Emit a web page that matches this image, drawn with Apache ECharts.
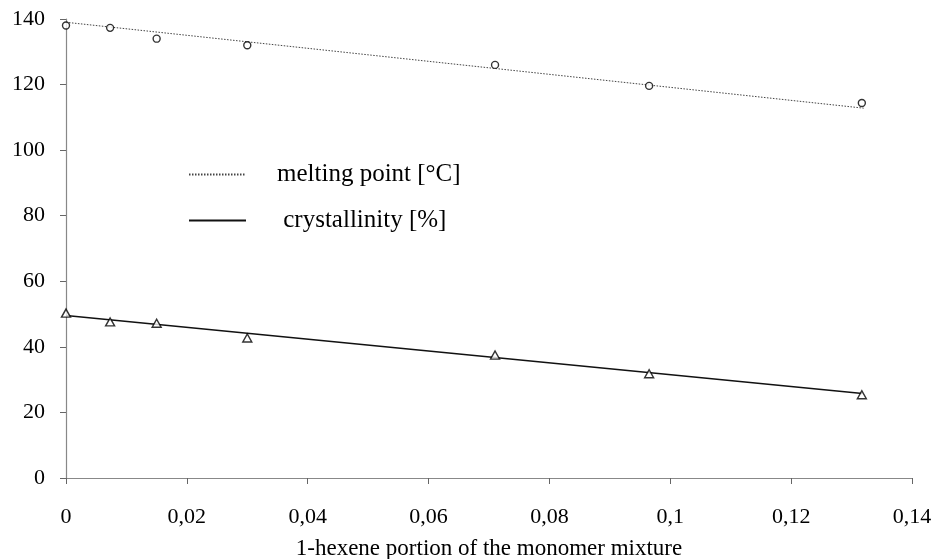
<!DOCTYPE html>
<html>
<head>
<meta charset="utf-8">
<script src="https://cdn.jsdelivr.net/npm/echarts@6/dist/echarts.min.js"></script>
<style>html,body{margin:0;padding:0;background:#fff}#c{width:937px;height:559px}</style>
</head>
<body>
<div id="c"></div>
<script>
// measured data
const hexene = [0, 0.0073, 0.015, 0.030, 0.071, 0.0965, 0.1317];
const meltingPoint = [138, 137.3, 134, 132, 126, 119.6, 114.4];
const crystallinity = [50.3, 47.6, 47.2, 42.7, 37.5, 31.8, 25.4];
// linear trend lines (endpoints)
const meltFitX = [0, 0.132];
const meltFitY = [139, 112.8];
const crystFitX = [0, 0.1318];
const crystFitY = [49.6, 25.8];
const xTicks = { min: 0, max: 0.14, interval: 0.02 };
const yTicks = { min: 0, max: 140, interval: 20 };
const legendNames = ['melting point [°C]', 'crystallinity [%]'];

const pairs = (xs, ys) => xs.map((x, i) => [x, ys[i]]);
const fmt = v => String(+v.toFixed(4)).replace('.', ',');
const font = 'Liberation Serif';

const chart = echarts.init(document.getElementById('c'), null, { renderer: 'canvas' });
chart.setOption({
  backgroundColor: '#fff',
  animation: false,
  grid: { left: 66, right: 25, top: 19, bottom: 81, containLabel: false, outerBoundsMode: 'none' },
  xAxis: {
    type: 'value', min: xTicks.min, max: xTicks.max, interval: xTicks.interval,
    name: '1-hexene portion of the monomer mixture', nameLocation: 'middle', nameGap: 59,
    nameTextStyle: { fontFamily: font, fontSize: 23, color: '#000' },
    axisLine: { show: true, lineStyle: { color: '#888', width: 1.2 } },
    axisTick: { show: true, length: 6, lineStyle: { color: '#666' } },
    axisLabel: { formatter: fmt, fontFamily: font, fontSize: 22, color: '#000', margin: 28 },
    splitLine: { show: false }
  },
  yAxis: {
    type: 'value', min: yTicks.min, max: yTicks.max, interval: yTicks.interval,
    axisLine: { show: true, lineStyle: { color: '#888', width: 1.2 } },
    axisTick: { show: true, length: 6, lineStyle: { color: '#666' } },
    axisLabel: { fontFamily: font, fontSize: 22, color: '#000', margin: 21 },
    splitLine: { show: false }
  },
  legend: {
    orient: 'vertical', left: 183, top: 157, itemGap: 21, itemWidth: 57, itemHeight: 14,
    data: legendNames,
    formatter: n => n === legendNames[1] ? ' ' + n : n,
    itemStyle: { opacity: 0 },
    textStyle: { fontFamily: font, fontSize: 25, color: '#000', padding: [0, 0, 0, 26] },
    selectedMode: false
  },
  series: [
    {
      name: legendNames[0], type: 'line', data: pairs(meltFitX, meltFitY),
      symbol: 'none', silent: true,
      lineStyle: { color: '#444', width: 1, type: [1.5, 1.5] }, z: 2
    },
    {
      name: legendNames[1], type: 'line', data: pairs(crystFitX, crystFitY),
      symbol: 'none', silent: true,
      lineStyle: { color: '#111', width: 1.5, type: 'solid' }, z: 2
    },
    {
      name: 'mp points', type: 'scatter', data: pairs(hexene, meltingPoint),
      symbol: 'circle', symbolSize: 7,
      itemStyle: { color: '#fff', borderColor: '#000', borderWidth: 1.4 }, z: 3
    },
    {
      name: 'cryst points', type: 'scatter', data: pairs(hexene, crystallinity),
      symbol: 'triangle', symbolSize: [9, 8],
      itemStyle: { color: '#fff', borderColor: '#000', borderWidth: 1.4 }, z: 3
    }
  ]
});
</script>
</body>
</html>
